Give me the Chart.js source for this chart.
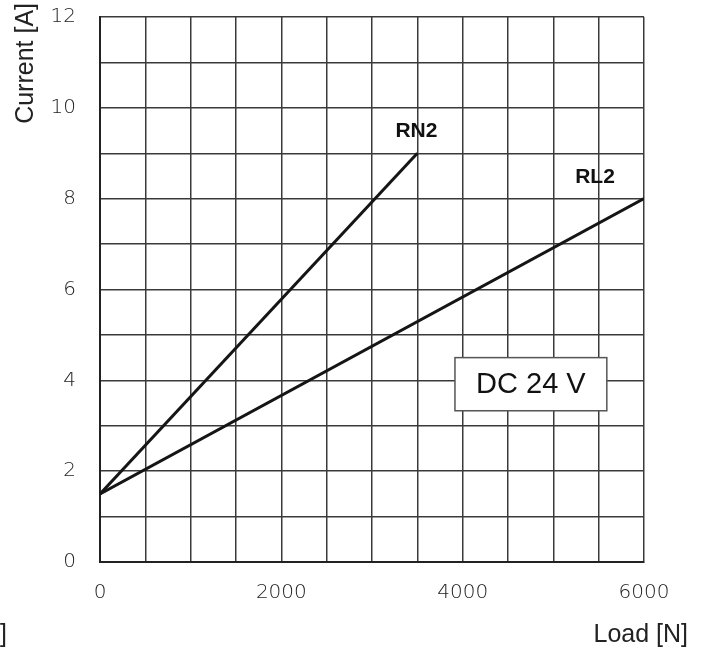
<!DOCTYPE html>
<html>
<head>
<meta charset="utf-8">
<script src="https://cdn.jsdelivr.net/npm/chart.js@4/dist/chart.umd.min.js"></script>
<style>
  html, body { margin: 0; padding: 0; background: #fff; }
  #wrap { width: 704px; height: 647px; }
</style>
</head>
<body>
<div id="wrap"><canvas id="currentChart" width="704" height="647"></canvas></div>
<script>
// data
const loadRN2 = [0, 3500];
const currentRN2 = [1.5, 9];
const loadRL2 = [0, 6000];
const currentRL2 = [1.5, 8];
const seriesNames = ['RN2', 'RL2'];
const boxText = 'DC 24 V';
const xTitle = 'Load [N]';
const yTitle = 'Current [A]';

const FONT = '"Liberation Sans", Arial, sans-serif';
const TICK_FONT = '"DejaVu Sans", sans-serif';
const gridColor = '#3a3a3a';

const toPoints = (xs, ys) => xs.map((x, i) => ({ x: x, y: ys[i] }));

// labels, box and titles drawn on top of the chart
const annotations = {
    id: 'annotations',
    afterDraw(chart) {
        const { ctx, scales: { x, y } } = chart;
        ctx.save();

        // series names
        ctx.fillStyle = '#111';
        ctx.font = 'bold 21px ' + FONT;
        ctx.textAlign = 'center';
        ctx.textBaseline = 'middle';
        ctx.fillText(seriesNames[0], x.getPixelForValue(3490), y.getPixelForValue(9.48));
        ctx.fillText(seriesNames[1], x.getPixelForValue(5460), y.getPixelForValue(8.48));

        // DC 24 V box
        const bx0 = x.getPixelForValue(3915), bx1 = x.getPixelForValue(5590);
        const by0 = y.getPixelForValue(4.5), by1 = y.getPixelForValue(3.33);
        ctx.fillStyle = '#fff';
        ctx.fillRect(bx0, by0, bx1 - bx0, by1 - by0);
        ctx.strokeStyle = '#555';
        ctx.lineWidth = 1.5;
        ctx.strokeRect(bx0, by0, bx1 - bx0, by1 - by0);
        ctx.fillStyle = '#111';
        ctx.font = '29px ' + FONT;
        ctx.fillText(boxText, (bx0 + bx1) / 2, (by0 + by1) / 2 + 1);

        // axis titles
        ctx.font = '25px ' + FONT;
        ctx.fillStyle = '#222';
        ctx.textAlign = 'right';
        ctx.textBaseline = 'alphabetic';
        ctx.fillText(xTitle, 688, 642);
        ctx.fillText(xTitle, 7, 642);

        ctx.translate(33, 3);
        ctx.rotate(-Math.PI / 2);
        ctx.textAlign = 'right';
        ctx.fillText(yTitle, 0, 0);
        ctx.restore();
    }
};

const canvas = document.getElementById('currentChart');
new Chart(canvas.getContext('2d'), {
    type: 'scatter',
    data: {
        datasets: [
            {
                label: seriesNames[0],
                data: toPoints(loadRN2, currentRN2),
                showLine: true,
                borderColor: '#151515',
                borderWidth: 3,
                pointRadius: 0
            },
            {
                label: seriesNames[1],
                data: toPoints(loadRL2, currentRL2),
                showLine: true,
                borderColor: '#151515',
                borderWidth: 3,
                pointRadius: 0
            }
        ]
    },
    options: {
        responsive: false,
        animation: false,
        layout: { padding: { top: 17, right: 60, left: 0, bottom: 0 } },
        plugins: { legend: { display: false }, tooltip: { enabled: false } },
        scales: {
            x: {
                type: 'linear',
                min: 0,
                max: 6000,
                afterFit: (s) => {
                    s.height = 85;
                    s.paddingLeft = 0;
                    s.paddingRight = 0;
                },
                border: { color: '#222', width: 2 },
                grid: { color: gridColor, lineWidth: 1.5, drawTicks: false },
                ticks: {
                    stepSize: 500,
                    padding: 19,
                    maxRotation: 0,
                    autoSkip: false,
                    color: '#222',
                    font: { family: TICK_FONT, size: 20, weight: '200' },
                    callback: (v) => (v % 2000 === 0 ? String(v) : '')
                }
            },
            y: {
                min: 0,
                max: 12,
                afterFit: (s) => {
                    s.width = 100;
                    s.paddingTop = 0;
                    s.paddingBottom = 0;
                },
                border: { color: '#222', width: 2 },
                grid: { color: gridColor, lineWidth: 1.5, drawTicks: false },
                ticks: {
                    stepSize: 1,
                    padding: 24,
                    autoSkip: false,
                    color: '#222',
                    font: { family: TICK_FONT, size: 20, weight: '200' },
                    callback: (v) => (v % 2 === 0 ? String(v) : '')
                }
            }
        }
    },
    plugins: [annotations]
});
</script>
</body>
</html>
